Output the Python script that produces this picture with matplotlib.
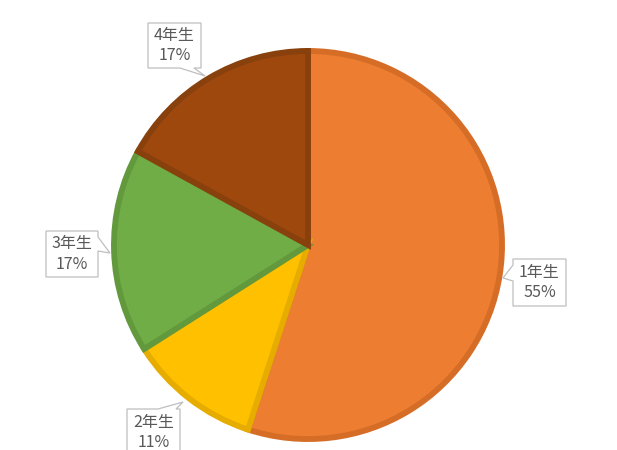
import matplotlib.pyplot as plt
from matplotlib.patches import Polygon

plt.rcParams['font.family'] = ['Noto Sans CJK JP', 'DejaVu Sans']

grades = ['1年生', '2年生', '3年生', '4年生']
shares = [55, 11, 17, 17]
colors = ['#ED7D31', '#FFC000', '#70AD47', '#9E480E']
edges = ['#D56D27', '#E6AC00', '#62993C', '#88400D']

# callout boxes (x0, y0, x1, y1) and pointers, in pixels of the 617x450 image
boxes = [(513, 259, 566, 306), (127, 409, 180, 456), (46, 231, 98, 277), (148, 23, 201, 68)]
pointers = [('left', 265, 281, (503, 278)),
            ('top', 158, 176, (183, 402)),
            ('right', 237, 251, (110, 253)),
            ('bottom', 180, 194, (205, 76))]

cx, cy, r = 308, 245, 198

fig = plt.figure(figsize=(6.17, 4.5), dpi=100)
ax = fig.add_axes([(cx - r) / 617, (450 - cy - r) / 450, 2 * r / 617, 2 * r / 450])

wedges, _ = ax.pie(shares, colors=colors, startangle=90, counterclock=False,
                   radius=0.98, wedgeprops=dict(linewidth=4.2))
for w, ec in zip(wedges, edges):
    w.set_edgecolor(ec)
    w.set_joinstyle('miter')
ax.set_xlim(-1, 1)
ax.set_ylim(-1, 1)
ax.axis('off')


def to_data(p):
    return ((p[0] - cx) / r, (cy - p[1]) / r)


def callout(box, ptr):
    x0, y0, x1, y1 = box
    side, a, b, tip = ptr
    if side == 'bottom':
        pts = [(x0, y0), (x1, y0), (x1, y1), (b, y1), tip, (a, y1), (x0, y1)]
    elif side == 'top':
        pts = [(x0, y0), (a, y0), tip, (b, y0), (x1, y0), (x1, y1), (x0, y1)]
    elif side == 'left':
        pts = [(x0, y0), (x1, y0), (x1, y1), (x0, y1), (x0, b), tip, (x0, a)]
    else:
        pts = [(x0, y0), (x1, y0), (x1, a), tip, (x1, b), (x1, y1), (x0, y1)]
    return [to_data(p) for p in pts]


for g, s, box, ptr in zip(grades, shares, boxes, pointers):
    ax.add_patch(Polygon(callout(box, ptr), closed=True, fc='white', ec='#BFBFBF',
                         lw=0.9, clip_on=False, zorder=3))
    x0, y0, x1, y1 = box
    tx, ty = to_data(((x0 + x1) / 2, (y0 + y1) / 2))
    ax.text(tx, ty, f'{g}\n{s}%', ha='center', va='center', fontsize=11.5,
            color='#595959', linespacing=1.3, zorder=4, clip_on=False)

fig.savefig('out.png', dpi=100, facecolor='white')
